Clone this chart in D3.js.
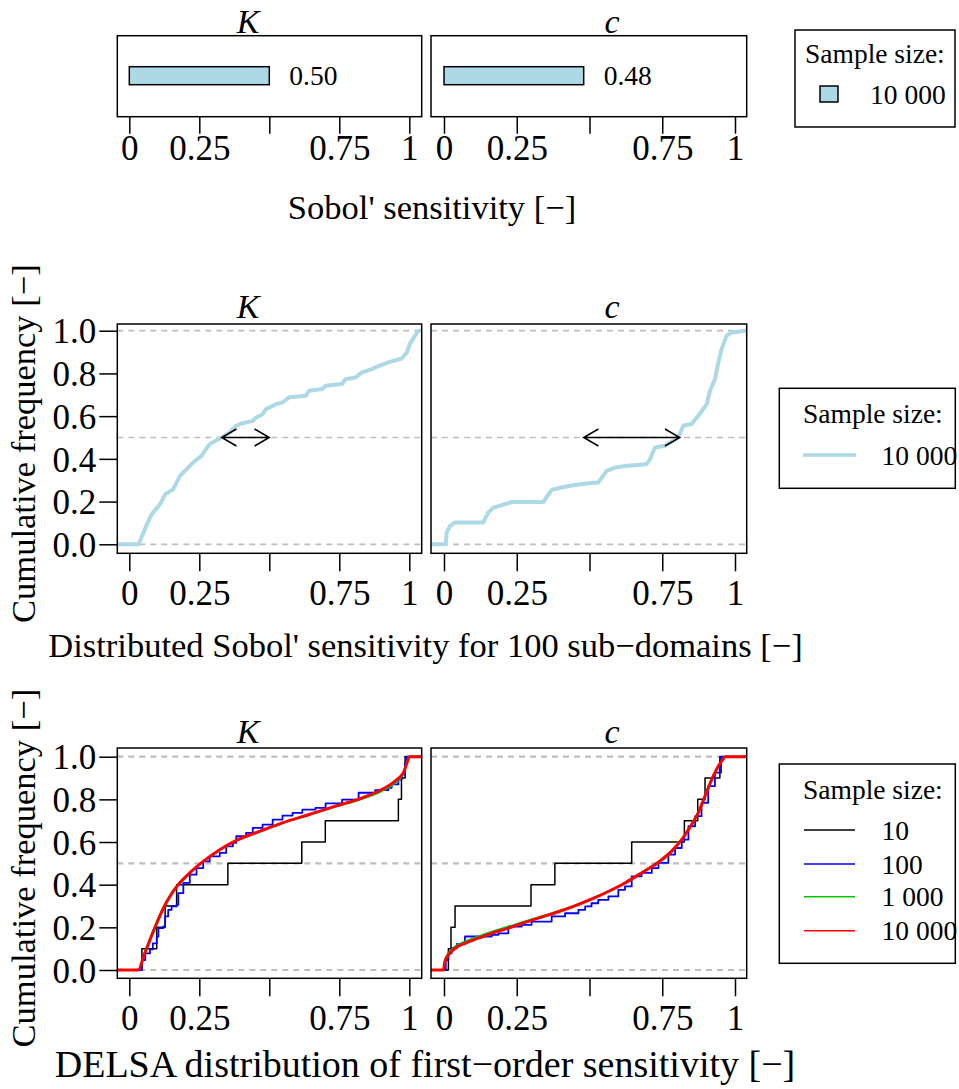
<!DOCTYPE html>
<html>
<head>
<meta charset="utf-8">
<script src="https://cdn.jsdelivr.net/npm/d3@7"></script>
<style>
  body { margin: 0; background: #fff; }
  svg text { font-family: "Liberation Serif", "Times New Roman", serif; fill: #000; }
</style>
</head>
<body>
<svg id="chart" width="959" height="1089"></svg>
<script>
// ---------------- data ----------------
const parameters = ["K", "c"];
const sobolIndex = [0.50, 0.48];
const sobolLabels = ["0.50", "0.48"];
// median of the distributed (sub-domain) Sobol' sensitivities
const distributedMedian = [0.33, 0.81];

const xTickValues = [0, 0.25, 0.5, 0.75, 1];
const xTickLabels = ["0", "0.25", "", "0.75", "1"];
const yTickValues = [0, 0.2, 0.4, 0.6, 0.8, 1.0];
const yTickLabels = ["0.0", "0.2", "0.4", "0.6", "0.8", "1.0"];
const referenceLevels = [0, 0.5, 1];

const sampleSizes = ["10", "100", "1 000", "10 000"];
const sampleColors = ["#000000", "#0000ff", "#00c800", "#ff0000"];
const sampleWidths = [1.5, 1.8, 2, 3];
const distributedSampleSize = "10 000";

// distributed Sobol' sensitivity, 100 sub-domains: [sensitivity, cumulative frequency]
const distributedK = [
  [0.033,0],[0.051,0.055],[0.063,0.094],[0.080,0.141],[0.110,0.188],[0.128,0.234],
  [0.157,0.258],[0.181,0.320],[0.216,0.367],[0.228,0.383],[0.258,0.414],[0.270,0.438],
  [0.287,0.469],[0.329,0.500],[0.358,0.523],[0.382,0.555],[0.405,0.567],[0.441,0.578],
  [0.453,0.594],[0.476,0.609],[0.488,0.633],[0.524,0.656],[0.547,0.664],[0.571,0.688],
  [0.630,0.695],[0.642,0.719],[0.689,0.727],[0.701,0.742],[0.760,0.750],[0.772,0.773],
  [0.807,0.781],[0.831,0.805],[0.866,0.820],[0.878,0.828],[0.925,0.852],[0.973,0.870],
  [0.991,0.898],[1.002,0.938],[1.032,1.000]
];
const distributedC = [
  [0.006,0],[0.009,0.055],[0.021,0.086],[0.038,0.102],[0.135,0.102],[0.152,0.148],
  [0.170,0.172],[0.198,0.183],[0.233,0.198],[0.341,0.198],[0.370,0.255],[0.404,0.266],
  [0.450,0.278],[0.496,0.286],[0.530,0.289],[0.559,0.344],[0.588,0.359],[0.622,0.367],
  [0.696,0.375],[0.708,0.398],[0.725,0.453],[0.759,0.461],[0.805,0.500],[0.822,0.555],
  [0.851,0.563],[0.874,0.602],[0.903,0.656],[0.914,0.719],[0.931,0.773],[0.943,0.852],
  [0.954,0.914],[0.971,0.977],[0.989,0.992],[1.034,1.000]
];

// DELSA first-order sensitivity, 10 samples (sorted values)
const delsaK10 = [0.045, 0.098, 0.128, 0.169, 0.352, 0.616, 0.700, 0.961, 0.972, 0.985];
const delsaC10 = [0.015, 0.024, 0.038, 0.299, 0.381, 0.645, 0.826, 0.872, 0.897, 0.948];

// DELSA, 100 samples: step corners [sensitivity, cumulative frequency]
const delsaK100 = [
  [0.037,0],[0.045,0.047],[0.057,0.078],[0.074,0.097],[0.084,0.125],[0.098,0.157],
  [0.104,0.196],[0.122,0.204],[0.128,0.251],[0.139,0.282],[0.151,0.298],[0.169,0.306],
  [0.175,0.360],[0.193,0.408],[0.216,0.447],[0.240,0.478],[0.264,0.509],[0.287,0.533],
  [0.323,0.549],[0.346,0.580],[0.370,0.596],[0.382,0.627],[0.417,0.643],[0.441,0.666],
  [0.476,0.682],[0.512,0.705],[0.547,0.724],[0.583,0.737],[0.618,0.752],[0.665,0.760],
  [0.701,0.781],[0.760,0.799],[0.819,0.831],[0.878,0.843],[0.925,0.854],[0.937,0.870],
  [0.961,0.893],[0.973,0.917],[0.985,0.972],[0.991,1.000]
];
const delsaC100 = [
  [0.003,0],[0.006,0.047],[0.015,0.078],[0.026,0.102],[0.044,0.122],[0.072,0.157],
  [0.129,0.157],[0.164,0.165],[0.187,0.172],[0.221,0.204],[0.267,0.212],[0.301,0.227],
  [0.336,0.227],[0.370,0.251],[0.416,0.266],[0.439,0.266],[0.462,0.282],[0.485,0.298],
  [0.507,0.313],[0.530,0.329],[0.565,0.345],[0.599,0.376],[0.622,0.392],[0.645,0.439],
  [0.679,0.455],[0.714,0.478],[0.737,0.502],[0.771,0.541],[0.794,0.572],[0.817,0.611],
  [0.840,0.674],[0.863,0.721],[0.885,0.784],[0.908,0.862],[0.931,0.925],[0.952,1.000]
];

// DELSA, 1 000 samples
const delsaK1000 = [
  [0.033,0],[0.050,0.065],[0.073,0.145],[0.097,0.222],[0.121,0.292],[0.144,0.347],
  [0.174,0.401],[0.215,0.455],[0.263,0.508],[0.322,0.562],[0.387,0.609],[0.464,0.648],
  [0.546,0.688],[0.641,0.727],[0.735,0.765],[0.830,0.802],[0.900,0.838],[0.948,0.876],
  [0.978,0.920],[0.995,0.985],[1.000,1.000]
];
const delsaC1000 = [
  [-0.002,0],[0.003,0.045],[0.015,0.078],[0.038,0.110],[0.072,0.133],[0.118,0.157],
  [0.164,0.180],[0.221,0.203],[0.278,0.228],[0.336,0.252],[0.393,0.276],[0.450,0.303],
  [0.507,0.334],[0.565,0.370],[0.622,0.410],[0.679,0.457],[0.737,0.508],[0.782,0.560],
  [0.817,0.615],[0.851,0.686],[0.874,0.742],[0.897,0.820],[0.920,0.897],[0.943,0.958],
  [0.960,0.990],[0.966,1.000]
];

// DELSA, 10 000 samples
const delsaK10000 = [
  [0.033,0],[0.051,0.063],[0.074,0.141],[0.098,0.219],[0.122,0.290],[0.145,0.345],
  [0.175,0.400],[0.216,0.455],[0.264,0.509],[0.323,0.564],[0.388,0.611],[0.465,0.650],
  [0.547,0.690],[0.642,0.729],[0.736,0.768],[0.831,0.807],[0.902,0.846],[0.949,0.886],
  [0.979,0.925],[0.996,0.987],[1.000,1.000]
];
const delsaC10000 = [
  [-0.002,0],[0.003,0.039],[0.015,0.070],[0.038,0.102],[0.072,0.125],[0.118,0.149],
  [0.164,0.172],[0.221,0.196],[0.278,0.223],[0.336,0.248],[0.393,0.273],[0.450,0.301],
  [0.507,0.332],[0.565,0.368],[0.622,0.408],[0.679,0.455],[0.737,0.505],[0.782,0.556],
  [0.817,0.611],[0.851,0.682],[0.874,0.737],[0.897,0.815],[0.920,0.893],[0.943,0.956],
  [0.960,0.990],[0.966,1.000]
];

// ---------------- layout ----------------
const TICK_FONT = 35, TITLE_FONT = 34.5, PANEL_FONT = 34, LEGEND_FONT = 27.5;

const cols = [
  { left: 117.3, right: 421.7, x0: 129.3, x1: 409.3, titleX: 248 },
  { left: 431.0, right: 746.7, x0: 444.0, x1: 735.0, titleX: 612 }
];
const rows = {
  bar:   { top: 35.7,  bottom: 116.7, tickLen: 17, pad: 1, titleY: 33 },
  dist:  { top: 324.0, bottom: 553.3, y0: 544.3, y1: 330.7, tickLen: 18, pad: 9, titleY: 318 },
  delsa: { top: 748.0, bottom: 978.3, y0: 970.0, y1: 756.7, tickLen: 18, pad: 9, titleY: 743 }
};

const svg = d3.select("#chart");
const defs = svg.append("defs");
const xScales = cols.map(c => d3.scaleLinear().domain([0, 1]).range([c.x0, c.x1]));

function clipFor(rowKey, i) {
  const id = `clip-${rowKey}-${i}`;
  const r = rows[rowKey], c = cols[i];
  defs.append("clipPath").attr("id", id)
    .append("rect").attr("x", c.left).attr("y", r.top)
    .attr("width", c.right - c.left).attr("height", r.bottom - r.top);
  return `url(#${id})`;
}

function frame(rowKey, i) {
  const r = rows[rowKey], c = cols[i];
  svg.append("rect").attr("x", c.left).attr("y", r.top)
    .attr("width", c.right - c.left).attr("height", r.bottom - r.top)
    .attr("fill", "none").attr("stroke", "#000").attr("stroke-width", 1.5);
}

function xAxis(rowKey, i) {
  const r = rows[rowKey];
  const g = svg.append("g").attr("transform", `translate(0,${r.bottom})`)
    .call(d3.axisBottom(xScales[i]).tickValues(xTickValues)
      .tickFormat((d, k) => xTickLabels[k]).tickSize(r.tickLen).tickPadding(r.pad));
  g.select(".domain").remove();
  g.selectAll(".tick line").attr("stroke", "#000").attr("stroke-width", 1.5);
  g.selectAll(".tick text").attr("font-size", TICK_FONT)
    .attr("font-family", '"Liberation Serif","Times New Roman",serif');
}

function yAxis(rowKey, yScale) {
  const g = svg.append("g").attr("transform", `translate(${cols[0].left},0)`)
    .call(d3.axisLeft(yScale).tickValues(yTickValues)
      .tickFormat((d, k) => yTickLabels[k]).tickSize(18).tickPadding(3));
  g.select(".domain").remove();
  g.selectAll(".tick line").attr("stroke", "#000").attr("stroke-width", 1.5);
  g.selectAll(".tick text").attr("font-size", TICK_FONT).attr("dy", "0.35em")
    .attr("font-family", '"Liberation Serif","Times New Roman",serif');
}

function panelTitle(rowKey, i) {
  svg.append("text").attr("x", cols[i].titleX).attr("y", rows[rowKey].titleY)
    .attr("text-anchor", "middle").attr("font-style", "italic")
    .attr("font-size", PANEL_FONT).text(parameters[i]);
}

function referenceLines(rowKey, i, yScale, width) {
  const c = cols[i];
  svg.append("g").selectAll("line").data(referenceLevels).join("line")
    .attr("x1", c.left).attr("x2", c.right)
    .attr("y1", d => yScale(d)).attr("y2", d => yScale(d))
    .attr("stroke", "#bebebe").attr("stroke-width", width)
    .attr("stroke-dasharray", "6,5");
}

function yLabel(rowKey) {
  const r = rows[rowKey];
  svg.append("text")
    .attr("transform", `translate(35,${(r.top + r.bottom) / 2 + 5}) rotate(-90)`)
    .attr("text-anchor", "middle").attr("font-size", TITLE_FONT)
    .text("Cumulative frequency [\u2212]");
}

function axisTitle(text, x, y, size) {
  svg.append("text").attr("x", x).attr("y", y).attr("text-anchor", "middle")
    .attr("font-size", size || TITLE_FONT).text(text);
}

// ---------------- row 1: Sobol' sensitivity bars ----------------
cols.forEach((c, i) => {
  const x = xScales[i];
  const barY = d3.scaleBand().domain([parameters[i]]).range([rows.bar.top, rows.bar.bottom]).paddingInner(0).paddingOuter(0);
  const bh = 18;
  const cy = barY(parameters[i]) + barY.bandwidth() / 2 - 0.5;
  svg.append("rect")
    .attr("x", x(0)).attr("y", cy - bh / 2)
    .attr("width", x(sobolIndex[i]) - x(0)).attr("height", bh)
    .attr("fill", "#add8e6").attr("stroke", "#000").attr("stroke-width", 1.5);
  svg.append("text").attr("x", x(sobolIndex[i]) + 20).attr("y", cy)
    .attr("dy", "0.35em").attr("font-size", LEGEND_FONT).text(sobolLabels[i]);
  frame("bar", i);
  xAxis("bar", i);
  panelTitle("bar", i);
});
axisTitle("Sobol' sensitivity [\u2212]", 432, 219);

// legend, row 1
(function () {
  const lg = svg.append("g");
  lg.append("rect").attr("x", 795).attr("y", 30).attr("width", 160).attr("height", 97)
    .attr("fill", "#fff").attr("stroke", "#000").attr("stroke-width", 1.5);
  lg.append("text").attr("x", 805).attr("y", 53).attr("dy", "0.35em")
    .attr("font-size", LEGEND_FONT).text("Sample size:");
  lg.append("rect").attr("x", 820).attr("y", 86).attr("width", 18).attr("height", 16)
    .attr("fill", "#add8e6").attr("stroke", "#000").attr("stroke-width", 1.5);
  lg.append("text").attr("x", 870).attr("y", 94).attr("dy", "0.35em")
    .attr("font-size", LEGEND_FONT).text(distributedSampleSize);
})();

// ---------------- row 2: distributed Sobol' sensitivity ----------------
const yDist = d3.scaleLinear().domain([0, 1]).range([rows.dist.y0, rows.dist.y1]);
const distributed = [distributedK, distributedC];

cols.forEach((c, i) => {
  const x = xScales[i];
  referenceLines("dist", i, yDist, 1.7);
  const lo = x.invert(c.left), hi = x.invert(c.right);
  const pts = [[lo, 0], ...distributed[i], [hi, 1]];
  const line = d3.line().x(d => x(d[0])).y(d => yDist(d[1]));
  svg.append("path").attr("d", line(pts)).attr("clip-path", clipFor("dist", i))
    .attr("fill", "none").attr("stroke", "#add8e6").attr("stroke-width", 4)
    .attr("stroke-linejoin", "round");

  // arrow between the median of the sub-domain distribution and the Sobol' index
  const yA = yDist(0.5);
  const xa = x(Math.min(sobolIndex[i], distributedMedian[i]));
  const xb = x(Math.max(sobolIndex[i], distributedMedian[i]));
  const L = 17, ang = Math.PI / 6;
  const dx = L * Math.cos(ang), dy = L * Math.sin(ang);
  const arrow = d3.path();
  arrow.moveTo(xa, yA); arrow.lineTo(xb, yA);
  arrow.moveTo(xa + dx, yA - dy); arrow.lineTo(xa, yA); arrow.lineTo(xa + dx, yA + dy);
  arrow.moveTo(xb - dx, yA - dy); arrow.lineTo(xb, yA); arrow.lineTo(xb - dx, yA + dy);
  svg.append("path").attr("d", arrow.toString()).attr("fill", "none")
    .attr("stroke", "#000").attr("stroke-width", 1.5);

  frame("dist", i);
  xAxis("dist", i);
  panelTitle("dist", i);
});
yAxis("dist", yDist);
yLabel("dist");
axisTitle("Distributed Sobol' sensitivity for 100 sub\u2212domains [\u2212]", 425.5, 657);

// legend, row 2
(function () {
  const lg = svg.append("g");
  lg.append("rect").attr("x", 779.3).attr("y", 388.3).attr("width", 176).attr("height", 100)
    .attr("fill", "#fff").attr("stroke", "#000").attr("stroke-width", 1.5);
  lg.append("text").attr("x", 803).attr("y", 413).attr("dy", "0.35em")
    .attr("font-size", LEGEND_FONT).text("Sample size:");
  lg.append("line").attr("x1", 803).attr("x2", 856).attr("y1", 455).attr("y2", 455)
    .attr("stroke", "#add8e6").attr("stroke-width", 3.5);
  lg.append("text").attr("x", 881.5).attr("y", 455).attr("dy", "0.35em")
    .attr("font-size", LEGEND_FONT).text(distributedSampleSize);
})();

// ---------------- row 3: DELSA first-order sensitivity ----------------
const yDelsa = d3.scaleLinear().domain([0, 1]).range([rows.delsa.y0, rows.delsa.y1]);
const delsa10 = [delsaK10, delsaC10];
const delsa100 = [delsaK100, delsaC100];
const delsa1000 = [delsaK1000, delsaC1000];
const delsa10000 = [delsaK10000, delsaC10000];

cols.forEach((c, i) => {
  const x = xScales[i];
  referenceLines("delsa", i, yDelsa, 2.2);
  const lo = x.invert(c.left), hi = x.invert(c.right);
  const clip = clipFor("delsa", i);

  // empirical CDF of the 10 samples
  const n10 = delsa10[i].length;
  const ecdf10 = [[lo, 0], ...delsa10[i].map((v, k) => [v, (k + 1) / n10]), [hi, 1]];
  const series = [
    { pts: ecdf10, curve: d3.curveStepAfter },
    { pts: [[lo, 0], ...delsa100[i], [hi, 1]], curve: d3.curveStepAfter },
    { pts: [[lo, 0], ...delsa1000[i], [hi, 1]], curve: d3.curveMonotoneX },
    { pts: [[lo, 0], ...delsa10000[i], [hi, 1]], curve: d3.curveMonotoneX }
  ];
  series.forEach((s, k) => {
    const line = d3.line().curve(s.curve).x(d => x(d[0])).y(d => yDelsa(d[1]));
    svg.append("path").attr("d", line(s.pts)).attr("clip-path", clip)
      .attr("fill", "none").attr("stroke", sampleColors[k])
      .attr("stroke-width", sampleWidths[k]).attr("stroke-linejoin", "round");
  });

  frame("delsa", i);
  xAxis("delsa", i);
  panelTitle("delsa", i);
});
yAxis("delsa", yDelsa);
yLabel("delsa");
axisTitle("DELSA distribution of first\u2212order sensitivity [\u2212]", 425, 1077, 38);

// legend, row 3
(function () {
  const lg = svg.append("g");
  lg.append("rect").attr("x", 779.3).attr("y", 764).attr("width", 176).attr("height", 199.3)
    .attr("fill", "#fff").attr("stroke", "#000").attr("stroke-width", 1.5);
  lg.append("text").attr("x", 803).attr("y", 789.3).attr("dy", "0.35em")
    .attr("font-size", LEGEND_FONT).text("Sample size:");
  const ys = [830, 864, 896.7, 930.7];
  sampleSizes.forEach((s, k) => {
    lg.append("line").attr("x1", 804).attr("x2", 855).attr("y1", ys[k]).attr("y2", ys[k])
      .attr("stroke", sampleColors[k]).attr("stroke-width", 1.5);
    lg.append("text").attr("x", 881.5).attr("y", ys[k]).attr("dy", "0.35em")
      .attr("font-size", LEGEND_FONT).text(s);
  });
})();
</script>
</body>
</html>
